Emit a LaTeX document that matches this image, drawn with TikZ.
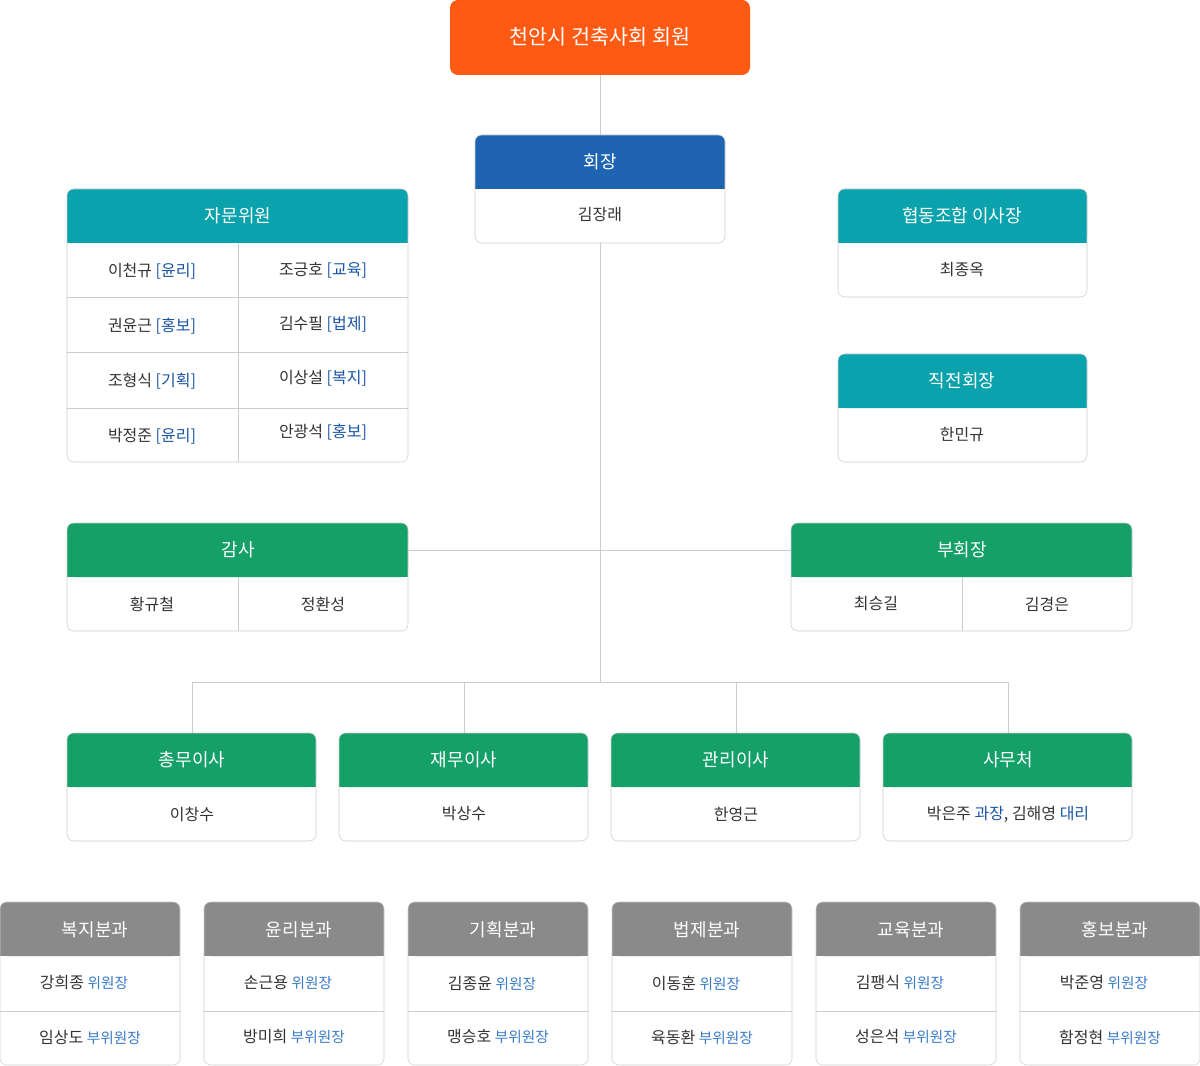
\documentclass[tikz,border=0pt]{standalone}
\usepackage{fontspec}
\setmainfont{Noto Sans CJK KR}
\definecolor{lg}{HTML}{CCCCCC}
\definecolor{orng}{HTML}{FF5A14}
\definecolor{bl}{HTML}{1E64B0}
\definecolor{tl}{HTML}{0AA2AC}
\definecolor{gr}{HTML}{14A066}
\definecolor{gy}{HTML}{8A8A8A}
\definecolor{lb}{HTML}{1A55A5}
\definecolor{lb2}{HTML}{3A7CC8}
\definecolor{txt}{HTML}{333333}
\newcommand\obox[6]{%
 \fill[white,rounded corners=5] (#1,#2) rectangle (#3,#4);
 \fill[#5,rounded corners=5] (#1,#2) rectangle (#3,#6);
 \fill[#5] (#1,{#2+10}) rectangle (#3,#6);
 \draw[lg,rounded corners=5] (#1,#2) rectangle (#3,#4);}
\tikzset{hd/.style={text=white,font=\fontsize{13.5}{16}\selectfont},
 bd/.style={text=txt,font=\fontsize{12}{14}\selectfont},
 ln/.style={draw=lg,line width=0.75pt},
 tg/.style={text=lb}, tg2/.style={text=lb2}}
\begin{document}
\begin{tikzpicture}[x=0.75pt,y=-0.75pt]
\useasboundingbox (0,0) rectangle (1200,1066);
% connectors
\coordinate (c0) at (600,75); \coordinate (c1) at (600,135);
\coordinate (c2) at (600,243); \coordinate (c3) at (600,682);
\coordinate (gL) at (408,550); \coordinate (gR) at (791,550);
\coordinate (hL) at (192,682); \coordinate (hR) at (1008,682);
\draw[ln] (c0)--(c1) (c2)--(c3) (gL)--(gR) (hL)--(hR);
\foreach \x in {192,464,736,1008} \draw[ln] (\x,682)--(\x,733);
% top
\fill[orng,rounded corners=6] (450,0) rectangle (750,75);
\node[hd,font=\fontsize{15.5}{18}\selectfont] (top) at (600,37) {천안시 건축사회 회원};
% 회장
\obox{475}{135}{725}{243}{bl}{189}
\node[hd] (h1) at (600,162) {회장}; \node[bd] (b1) at (600,215) {김장래};
% 자문위원
\obox{67}{189}{408}{462}{tl}{243}
\node[hd] (h2) at (238,216) {자문위원};
\foreach \y in {298,353,408} \draw[ln] (67,\y)--(408,\y);
\draw[ln] (238,243)--(238,462);
\node[bd] (a1) at (152,271) {이천규 {\color{lb}[윤리]}};
\node[bd] (a2) at (323,270) {조긍호 {\color{lb}[교육]}};
\node[bd] (a3) at (152,326) {권윤근 {\color{lb}[홍보]}};
\node[bd] (a4) at (323,324) {김수필 {\color{lb}[법제]}};
\node[bd] (a5) at (152,381) {조형식 {\color{lb}[기획]}};
\node[bd] (a6) at (323,378) {이상설 {\color{lb}[복지]}};
\node[bd] (a7) at (152,436) {박정준 {\color{lb}[윤리]}};
\node[bd] (a8) at (323,432) {안광석 {\color{lb}[홍보]}};
% right
\obox{838}{189}{1087}{297}{tl}{243}
\node[hd] (h3) at (962,216) {협동조합 이사장}; \node[bd] (b3) at (962,270) {최종옥};
\obox{838}{354}{1087}{462}{tl}{408}
\node[hd] (h4) at (962,381) {직전회장}; \node[bd] (b4) at (962,435) {한민규};
% 감사 / 부회장
\obox{67}{523}{408}{631}{gr}{577}
\draw[ln] (238,577)--(238,631);
\node[hd] (h5) at (238,550) {감사};
\node[bd] (b5a) at (152,604) {황규철}; \node[bd] (b5b) at (323,604) {정환성};
\obox{791}{523}{1132}{631}{gr}{577}
\draw[ln] (962,577)--(962,631);
\node[hd] (h6) at (962,550) {부회장};
\node[bd] (b6a) at (876,604) {최승길}; \node[bd] (b6b) at (1047,604) {김경은};
% row
\obox{67}{733}{316}{841}{gr}{787}
\node[hd] (r1) at (192,760) {총무이사}; \node[bd] (s1) at (192,814) {이창수};
\obox{339}{733}{588}{841}{gr}{787}
\node[hd] (r2) at (464,760) {재무이사}; \node[bd] (s2) at (464,814) {박상수};
\obox{611}{733}{860}{841}{gr}{787}
\node[hd] (r3) at (736,760) {관리이사}; \node[bd] (s3) at (736,814) {한영근};
\obox{883}{733}{1132}{841}{gr}{787}
\node[hd] (r4) at (1008,760) {사무처};
\node[bd] (s4) at (1008,814) {박은주 {\color{lb}과장}, 김해영 {\color{lb}대리}};
% bottom
\foreach \x/\t/\a/\b [count=\i] in {0/복지분과/강희종/임상도,204/윤리분과/손근용/방미희,408/기획분과/김종윤/맹승호,612/법제분과/이동훈/육동환,816/교육분과/김팽식/성은석,1020/홍보분과/박준영/함정현}{
 \obox{\x}{902}{\x+180}{1065}{gy}{956}
 \draw[ln] (\x,1011)--(\x+180,1011);
 \node[hd] (p\i) at (\x+95,930) {\t};
 \node[bd] (q\i) at (\x+84,983) {\a\ {\color{lb2}\fontsize{11}{13}\selectfont 위원장}};
 \node[bd] (u\i) at (\x+90,1037) {\b\ {\color{lb2}\fontsize{11}{13}\selectfont 부위원장}};
}
\end{tikzpicture}
\end{document}
